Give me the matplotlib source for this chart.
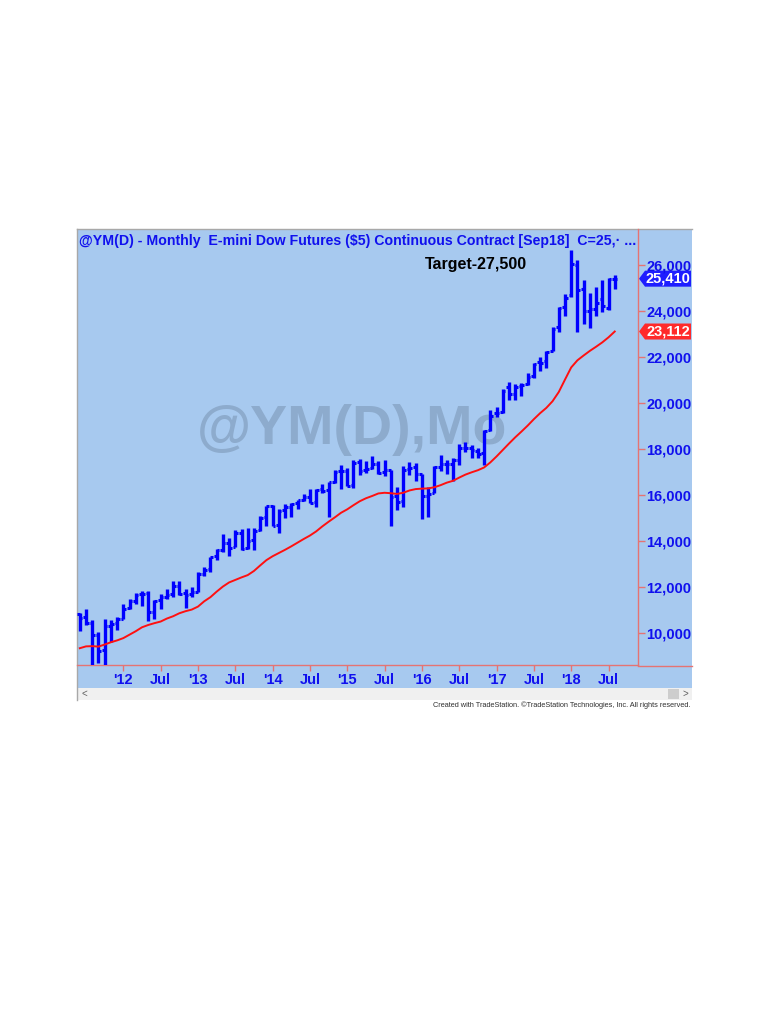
import numpy as np
import pandas as pd
import matplotlib
matplotlib.use("Agg")
import matplotlib.pyplot as plt
from matplotlib.patches import Rectangle, Polygon

plt.rcParams['font.family'] = ['Liberation Sans', 'DejaVu Sans']

# ---------------- data (monthly bars, Jun 2011 .. Aug 2018) ----------------
start_month = "2011-06"
opens = [10820, 10690, 10440, 9930, 9260, 10320, 10430,
         10630, 11070, 11410, 11690, 11720, 10920, 11430, 11580, 11690, 12060, 11740, 11690,
         11790, 12570, 12790, 13340, 13620, 13920, 13740, 14350, 13690, 14030, 14460, 15030,
         15540, 14680, 15330, 15490, 15640, 15790, 15930, 15690, 16250, 16210, 16580, 17040,
         17060, 16430, 17420, 17080, 17170, 17370, 17020, 17090, 15950, 15730, 17130, 17210,
         16920, 15980, 16090, 17220, 17360, 17350, 17530, 18060, 18030, 17930, 17830, 18810,
         19570, 19610, 20690, 20410, 20730, 20810, 21190, 21770, 21810, 22270, 23300, 24180,
         24700, 25990, 24950, 24010, 24070, 24510, 24140, 25400]
highs = [10850, 11030, 10580, 10040, 10630, 10550, 10690,
         11250, 11490, 11750, 11820, 11840, 11420, 11710, 11900, 12250, 12280, 11930, 12020,
         12660, 12860, 13320, 13640, 14320, 14140, 14480, 14510, 14580, 14570, 15090, 15530,
         15550, 15380, 15600, 15660, 15790, 16060, 16250, 16280, 16500, 16570, 17090, 17320,
         17190, 17510, 17570, 17480, 17680, 17490, 17510, 17100, 16360, 17250, 17450, 17410,
         16920, 16330, 17260, 17730, 17510, 17610, 18230, 18290, 18170, 18050, 18820, 19680,
         19830, 20610, 20900, 20820, 20880, 21320, 21730, 21990, 22250, 23330, 24190, 24750,
         26650, 26210, 25370, 24790, 25040, 25370, 25450, 25560]
lows = [10110, 10330, 8500, 8680, 8550, 9600, 10120,
        10600, 11060, 11250, 11190, 10540, 10630, 11040, 11490, 11580, 11650, 11110, 11550,
        11790, 12490, 12670, 13190, 13520, 13350, 13740, 13610, 13650, 13610, 14440, 14640,
        14660, 14330, 15020, 15050, 15390, 15750, 15660, 15460, 16090, 15030, 16520, 16280,
        16380, 16300, 16860, 16970, 17130, 16910, 16840, 14650, 15370, 15460, 16860, 16630,
        14950, 15030, 16090, 17050, 16910, 16600, 17320, 17870, 17630, 17610, 17300, 18800,
        19380, 19550, 20150, 20130, 20320, 20790, 21080, 21410, 21540, 22260, 23100, 23800,
        24630, 23080, 23430, 23280, 23780, 23970, 24060, 24950]
closes = [10660, 10420, 9910, 9230, 10300, 10410, 10610,
          11040, 11390, 11670, 11690, 10900, 11410, 11560, 11660, 12030, 11710, 11670, 11770,
          12550, 12760, 13310, 13600, 13900, 13710, 14330, 13660, 14000, 14440, 15000, 15520,
          14660, 15310, 15470, 15610, 15770, 15910, 15660, 16220, 16190, 16560, 17020, 17040,
          16400, 17400, 17060, 17150, 17340, 16970, 17070, 15930, 15710, 17110, 17190, 16920,
          15980, 16050, 17230, 17340, 17360, 17520, 18040, 18030, 17950, 17800, 18800, 19450,
          19570, 20530, 20400, 20690, 20770, 21130, 21690, 21760, 22230, 23220, 24130, 24590,
          26040, 24930, 24020, 24100, 24370, 24240, 25400, 25410]
moving_avg = [9340, 9420, 9430, 9410, 9500, 9600, 9680,
              9780, 9930, 10080, 10250, 10350, 10430, 10500, 10630, 10730, 10860, 10950, 11020,
              11150, 11380, 11560, 11800, 12020, 12200, 12310, 12420, 12520, 12700, 12940, 13170,
              13340, 13480, 13620, 13770, 13930, 14090, 14240, 14420, 14640, 14840, 15030, 15230,
              15380, 15560, 15730, 15860, 15960, 16070, 16100, 16080, 16050, 16100, 16200, 16260,
              16280, 16290, 16340, 16430, 16540, 16620, 16760, 16890, 16990, 17080, 17200, 17420,
              17680, 17960, 18240, 18510, 18760, 19020, 19300, 19560, 19790, 20080, 20480, 21020,
              21550, 21860, 22070, 22270, 22450, 22640, 22860, 23112]
ytick_values = [10000, 12000, 14000, 16000, 18000, 20000, 22000, 24000, 26000]
first_labelled_year = 2012
last_close_label = "25,410"
ma_label = "23,112"
title_text = "@YM(D) - Monthly  E-mini Dow Futures ($5) Continuous Contract [Sep18]  C=25,\u00b7 ..."
target_text = "Target-27,500"
watermark = "@YM(D),Mo"
credit = "Created with TradeStation. \u00a9TradeStation Technologies, Inc. All rights reserved."

dates = pd.period_range(start_month, periods=len(closes), freq="M")
x = np.arange(len(closes))

# ---------------- styling ----------------
BG = '#A7C9EF'
BAR = '#0000FF'
AXRED = '#E57373'
LBL = '#1010EE'

fig = plt.figure(figsize=(7.68, 10.24), dpi=100)
fig.patch.set_facecolor('white')

bg = fig.add_axes([0, 0, 1, 1], zorder=0)
bg.set_xlim(0, 768)
bg.set_ylim(1024, 0)
bg.axis('off')

# chart panel
bg.add_patch(Rectangle((77, 229), 615, 459, facecolor=BG, edgecolor='none'))
bg.plot([77, 692], [229, 229], color='#A8A8A8', lw=1.0)
bg.plot([77, 77], [229, 700], color='#A8A8A8', lw=1.0)
# scrollbar
bg.add_patch(Rectangle((78, 688), 614, 12, facecolor='#F0F0F0', edgecolor='none'))
bg.add_patch(Rectangle((668, 689), 11, 10, facecolor='#CDCDCD', edgecolor='none'))
bg.text(81, 694, "<", fontsize=7, color='#606060', va='center', ha='left')
bg.text(688, 694, ">", fontsize=7, color='#606060', va='center', ha='right')
bg.text(690, 705, credit, fontsize=5.3, color='#303030', ha='right', va='center')

# watermark
bg.text(197, 430, watermark, fontsize=40, fontweight='bold', color='#8DABCD',
        ha='left', va='center')

# main plot axes
ax = fig.add_axes([77 / 768, 1 - 665 / 1024, (638 - 77) / 768, (665 - 229) / 1024], zorder=2)
ax.set_facecolor('none')
ax.set_xlim(-0.45, 89.74)
ax.set_ylim(8610, 27570)

ax.vlines(x, lows, highs, color=BAR, lw=2.4, capstyle='butt', zorder=3)
ax.hlines(opens, x - 0.42, x, color=BAR, lw=2.2, zorder=3)
ax.hlines(closes, x, x + 0.42, color=BAR, lw=2.2, zorder=3)
ax.plot(x, moving_avg, color='#FF1010', lw=1.4, zorder=4)

for s in ['left', 'top']:
    ax.spines[s].set_visible(False)
for s in ['right', 'bottom']:
    ax.spines[s].set_color(AXRED)
    ax.spines[s].set_linewidth(1.0)

ax.yaxis.tick_right()
ax.set_yticks(ytick_values)
ax.set_yticklabels([f"{v:,}" for v in ytick_values])
ax.tick_params(axis='y', length=5, width=1, color=AXRED, labelcolor=LBL, pad=1,
               labelsize=10.5)

tick_pos = [i for i, d in enumerate(dates)
            if d.month in (1, 7) and d.year >= first_labelled_year]
tick_lab = [("'" + str(dates[i].year)[2:]) if dates[i].month == 1 else "Jul" for i in tick_pos]
ax.set_xticks(tick_pos)
ax.set_xticklabels(tick_lab)
ax.tick_params(axis='x', length=4, width=1, color=AXRED, labelcolor=LBL, pad=2,
               labelsize=10.5)
for lab in ax.get_xticklabels() + ax.get_yticklabels():
    lab.set_fontweight('bold')

# extend bottom axis line through the price column
bg.plot([638, 692], [665.5, 665.5], color=AXRED, lw=1.0)

# title & annotation
bg.text(79, 241, title_text, fontsize=10.2, fontweight='bold', color=LBL, ha='left', va='center')
bg.text(476, 265, target_text, fontsize=11.5, fontweight='bold', color='black',
        ha='center', va='center')

# price flags on the right axis
inv = bg.transData.inverted()
def flag(value, text, color):
    ypix = inv.transform(ax.transData.transform((0, value)))[1]
    pts = [(639, ypix), (645, ypix - 8), (691, ypix - 8), (691, ypix + 8), (645, ypix + 8)]
    bg.add_patch(Polygon(pts, closed=True, facecolor=color, edgecolor='none', zorder=5))
    bg.text(668, ypix, text, fontsize=10.5, fontweight='bold', color='white',
            ha='center', va='center', zorder=6)

flag(closes[-1], last_close_label, '#1E1EFF')
flag(moving_avg[-1], ma_label, '#FF2A2A')

fig.savefig("out.png", dpi=100, facecolor='white')
